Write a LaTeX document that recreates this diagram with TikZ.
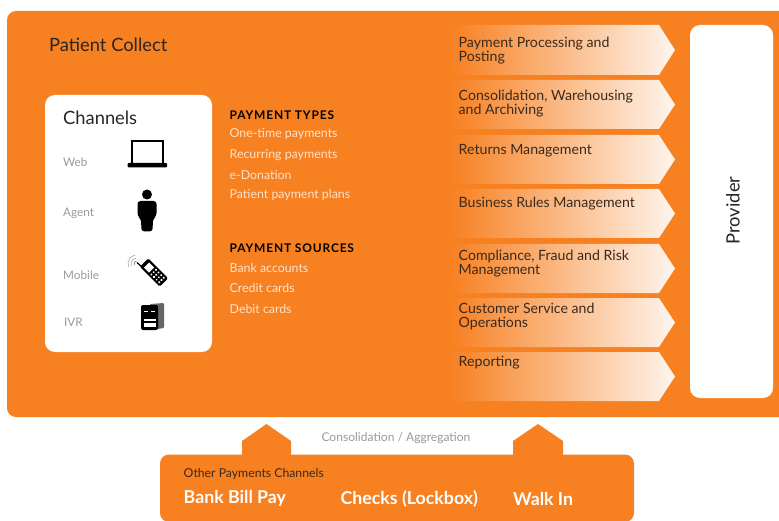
\documentclass[tikz,border=0pt]{standalone}
\usepackage{fontspec}
\setmainfont{Lato}
\definecolor{org}{HTML}{F78021}
\definecolor{gtxt}{HTML}{9A9A9A}
\definecolor{dtxt}{HTML}{3A2A1C}
\definecolor{ptxt}{HTML}{FDE3CC}
\tikzset{
  flow/.style={left color=org,right color=white!92!org,draw=none},
  flowtxt/.style={anchor=north west,inner sep=0pt,align=left,text=dtxt,font=\fontsize{14.2}{14.5}\selectfont},
  chan/.style={anchor=west,inner sep=0pt,text=gtxt,font=\fontsize{11.8}{14}\selectfont},
  head/.style={anchor=west,inner sep=0pt,text=black,font=\fontsize{12}{14}\selectfont\bfseries\addfontfeatures{LetterSpace=7}},
  item/.style={anchor=west,inner sep=0pt,text=ptxt,font=\fontsize{12.4}{14}\selectfont},
  big/.style={anchor=west,inner sep=0pt,text=white,font=\fontsize{17.8}{20}\selectfont\bfseries},
  ico/.style={fill=black,draw=none},
  bigt/.style={inner sep=0pt,text=black!85,font=\fontsize{18.4}{20}\selectfont},
}
\begin{document}
\begin{tikzpicture}[x=1bp,y=-1bp]
\useasboundingbox (0,0) rectangle (779,521);
\fill[white] (0,0) rectangle (779,521);
% main panel
\fill[org,rounded corners=9bp] (7,11) rectangle (795,417);
\node[bigt,anchor=west] (title) at (49,44.5) {Patient Collect};
% channels
\fill[white,rounded corners=10bp] (45,95) rectangle (212,352);
\node[bigt,anchor=west] (channels) at (63,118) {Channels};
\node[chan] (web) at (63,162) {Web};
\node[chan] (agent) at (63,213) {Agent};
\node[chan] (mobile) at (63,275) {Mobile};
\node[chan] (ivr) at (64,322) {IVR};
% laptop
\draw[black,line width=1.1bp] (132,163) -- (132,141) -- (163,141) -- (163,163);
\fill[ico,rounded corners=1bp] (127.5,163) rectangle (167,167.5);
% person
\fill[ico] (147,194.5) circle (5bp);
\fill[ico,rounded corners=3bp] (137.5,201) -- (156.5,201) -- (156.5,216) -- (153,219) -- (152.5,231.5) -- (141.5,231.5) -- (141,219) -- (137.5,216) -- cycle;
% phone
\begin{scope}[shift={(154,272.5)},rotate=-45]
  \fill[ico,rounded corners=1.5bp] (-14,-6) rectangle (14,6);
  \fill[white] (-10.5,-3.6) rectangle (-3.5,3.6);
  \foreach \u in {-0.5,3.2,6.9,10.6}{\foreach \v in {-3.2,0,3.2}{\fill[white] (\u,\v) circle (1.2bp);}}
\end{scope}
\draw[black,line width=1.2bp] (143,268) -- (137,262.5);
\draw[black!70,line width=.5bp] (134.2,265) arc[start angle=200,end angle=100,radius=3bp];
\draw[gtxt,line width=.5bp] (131.4,266) arc[start angle=200,end angle=100,radius=6bp];
\draw[gtxt,line width=.5bp] (128.5,267) arc[start angle=200,end angle=100,radius=9bp];
% server
\fill[black!60,rounded corners=1bp] (150,304) -- (164,303) -- (164,328) -- (150,330) -- cycle;
\fill[ico,rounded corners=2bp] (141,305) rectangle (158,330);
\fill[white] (143.5,311) rectangle (148,312);
\fill[white] (150.5,311) rectangle (155,312);
\fill[white] (143.5,318.5) rectangle (155.5,321);
\fill[white] (143.5,323) rectangle (155.5,327);
% payment types
\node[head] (ptypes) at (229.5,115.5) {PAYMENT TYPES};
\node[item] (i1) at (229.5,134.5) {One-time payments};
\node[item] (i2) at (229.5,155.5) {Recurring payments};
\node[item] (i3) at (229.5,175.5) {e-Donation};
\node[item] (i4) at (229.5,195.5) {Patient payment plans};
\node[head] (psources) at (229.5,248.5) {PAYMENT SOURCES};
\node[item] (s1) at (229.5,268.5) {Bank accounts};
\node[item] (s2) at (229.5,288.5) {Credit cards};
\node[item] (s3) at (229.5,308.5) {Debit cards};
% flow arrows
\foreach \t/\b/\n in {25/75/a,80/129/b,135/184/c,189/238/d,244/293/e,298/347/f,352/401/g}{
  \path[flow] (450,\t) -- (659,\t) -- (675,{(\t+\b)/2}) -- (659,\b) -- (450,\b) -- cycle;
}
\node[flowtxt] (fa) at (458.5,36.5) {Payment Processing and\\Posting};
\node[flowtxt] (fb) at (458.5,89.5) {Consolidation, Warehousing\\and Archiving};
\node[flowtxt] (fc) at (458.5,144) {Returns Management};
\node[flowtxt] (fd) at (458.5,196.5) {Business Rules Management};
\node[flowtxt] (fe) at (458.5,249.5) {Compliance, Fraud and Risk\\Management};
\node[flowtxt] (ff) at (458.5,302.5) {Customer Service and\\Operations};
\node[flowtxt] (fg) at (458.5,355.5) {Reporting};
% provider
\fill[white,rounded corners=10bp] (690,25) rectangle (773,398);
\node[bigt,rotate=90] (provider) at (733,210.5) {Provider};
% bottom
\fill[org,rounded corners=9bp] (160,454.5) rectangle (634,522);
\fill[org] (242,456) -- (242,441) -- (266.5,424) -- (291,441) -- (291,456) -- cycle;
\fill[org] (513,456) -- (513,441) -- (538,424) -- (563,441) -- (563,456) -- cycle;
\node[inner sep=0pt,text=gtxt,font=\fontsize{12.1}{14}\selectfont] (cons) at (396,438) {Consolidation / Aggregation};
\node[anchor=west,inner sep=0pt,text=dtxt,font=\fontsize{12.3}{14}\selectfont] (other) at (183.5,474) {Other Payments Channels};
\node[big] (b1) at (183.5,498.5) {Bank Bill Pay};
\node[big] (b2) at (340.5,498.5) {Checks (Lockbox)};
\node[big] (b3) at (513,498.5) {Walk In};
\end{tikzpicture}
\end{document}
